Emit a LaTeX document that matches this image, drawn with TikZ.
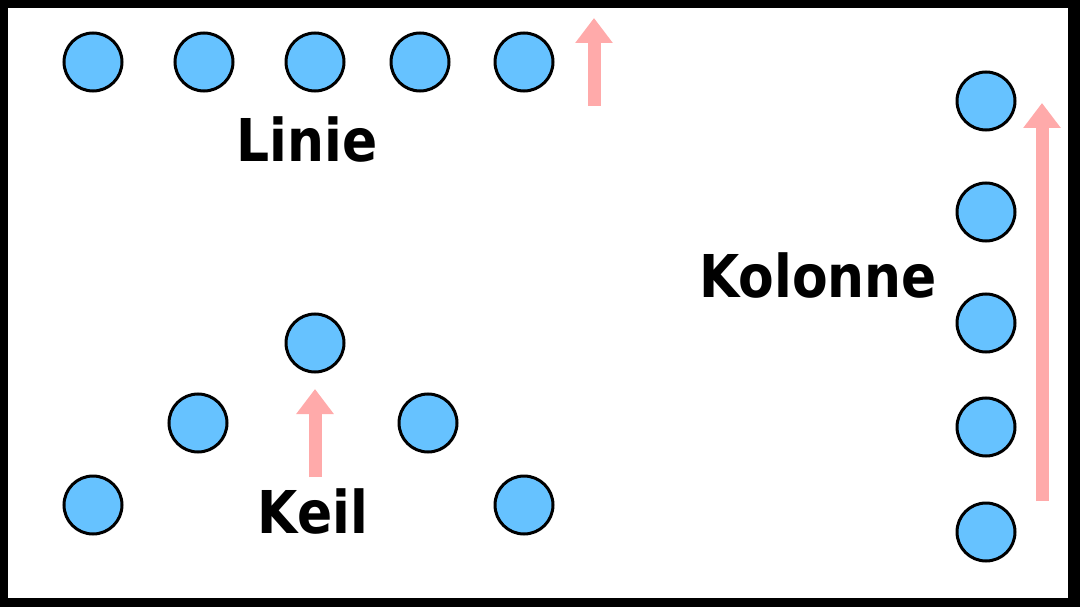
\documentclass[tikz,border=0pt]{standalone}
\usepackage{fontspec}
\setsansfont{DejaVu Sans}[FakeStretch=0.88]
\usepackage{tikz}
\usetikzlibrary{arrows.meta,positioning}
\usepackage{xcolor}
\definecolor{dotblue}{RGB}{102,194,255}
\definecolor{movepink}{RGB}{255,170,170}

\begin{document}
\begin{tikzpicture}[x=1pt, y=-1pt,
    soldier/.style={circle, draw=black, line width=3pt, fill=dotblue, minimum size=58pt, inner sep=0pt},
    march/.style={movepink, line width=13pt, -{Triangle[width=36pt,length=25pt]}},
    formname/.style={anchor=base, inner sep=0pt, font=\sffamily\bfseries\fontsize{59}{60}\selectfont}]
        % Frame
        \fill[black] (0,0) rectangle (1080,607);
        \fill[white] (8,8) rectangle (1068,598);

        % Linie
        \foreach \x [count=\i] in {93,204,315,420,524} {
          \node[soldier] (lin\i) at (\x,62) {};
        }
        \coordinate (linTail) at (594,106);
        \coordinate (linTip) at (594,18);
        \draw[march] (linTail) -- (linTip);
        \node[formname] (linName) at (307,162) {Linie};

        % Keil
        \node[soldier] (keil1) at (315,343) {};
        \node[soldier] (keil2) at (198,423) {};
        \node[soldier] (keil3) at (428,423) {};
        \node[soldier] (keil4) at (93,505) {};
        \node[soldier] (keil5) at (524,505) {};
        \coordinate (keilTail) at (315,477);
        \coordinate (keilTip) at (315,389);
        \draw[march] (keilTail) -- (keilTip);
        \node[formname] (keilName) at (313,533) {Keil};

        % Kolonne
        \foreach \y [count=\i] in {101,212,323,427,532} {
          \node[soldier] (kol\i) at (986,\y) {};
        }
        \coordinate (kolTail) at (1042,501);
        \coordinate (kolTip) at (1042,103);
        \draw[march] (kolTail) -- (kolTip);
        \node[formname] (kolName) at (818,298) {Kolonne};
      \end{tikzpicture}
\end{document}
